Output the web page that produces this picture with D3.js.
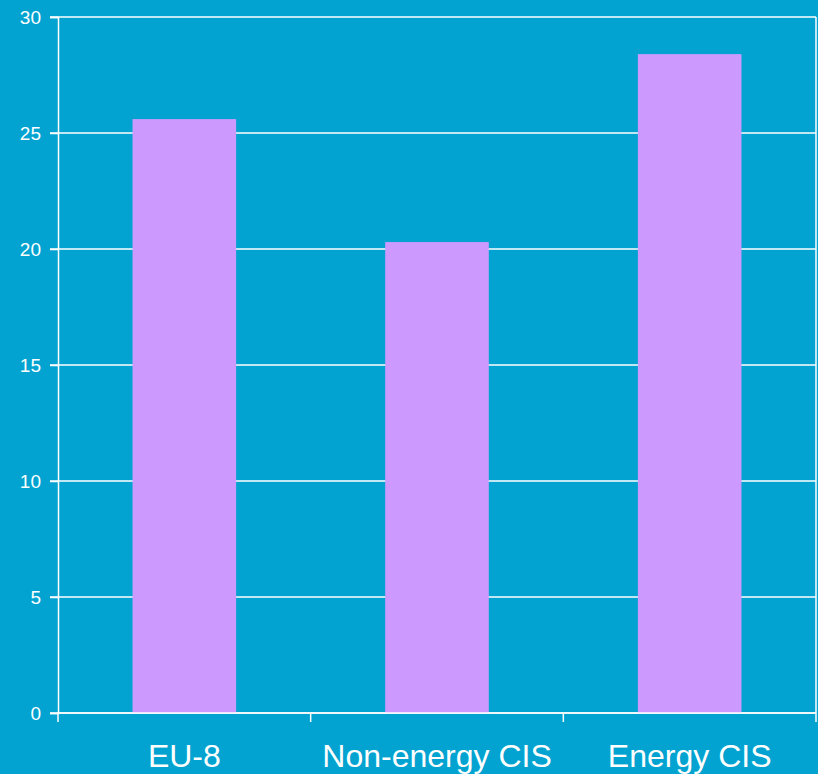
<!DOCTYPE html>
<html>
<head>
<meta charset="utf-8">
<script src="https://cdn.jsdelivr.net/npm/d3@7"></script>
<style>
  body { margin: 0; background: #02a3d1; }
  svg { display: block; font-family: "Liberation Sans", Arial, sans-serif; }
</style>
</head>
<body>
<svg id="chart" width="818" height="774"></svg>
<script>
var categories = ["EU-8", "Non-energy CIS", "Energy CIS"];
var values = [25.6, 20.3, 28.4];
var yTicks = [0, 5, 10, 15, 20, 25, 30];

var svg = d3.select("#chart"),
    margin = {top: 17, right: 2, bottom: 61, left: 58},
    width = +svg.attr("width") - margin.left - margin.right,
    height = +svg.attr("height") - margin.top - margin.bottom,
    g = svg.append("g").attr("transform", "translate(" + margin.left + "," + margin.top + ")");

svg.insert("rect", ":first-child")
    .attr("width", 818).attr("height", 774).attr("fill", "#02a3d1");

var x = d3.scaleBand()
    .domain(categories)
    .range([0, width])
    .paddingInner(0.59)
    .paddingOuter(0.295);

var y = d3.scaleLinear()
    .domain([0, 30])
    .range([height, 0]);

// gridlines
g.append("g")
    .selectAll("line")
    .data(yTicks)
    .enter().append("line")
    .attr("x1", -8)
    .attr("x2", width)
    .attr("y1", function(d) { return y(d); })
    .attr("y2", function(d) { return y(d); })
    .attr("stroke", "#fff")
    .attr("stroke-width", 1.5);

// bars
g.selectAll(".bar")
    .data(values)
    .enter().append("rect")
    .attr("class", "bar")
    .attr("x", function(d, i) { return x(categories[i]); })
    .attr("width", x.bandwidth())
    .attr("y", function(d) { return y(d); })
    .attr("height", function(d) { return height - y(d); })
    .attr("fill", "#cc99ff");

// y axis
var yAxis = g.append("g")
    .call(d3.axisLeft(y).tickValues(yTicks).tickSize(8).tickPadding(9));
yAxis.select(".domain").attr("stroke", "#fff").attr("stroke-width", 1.5);
yAxis.selectAll(".tick line").attr("stroke", "#fff").attr("stroke-width", 1.5);
yAxis.selectAll(".tick text").attr("fill", "#fff").attr("font-size", 19)
    .attr("font-family", "Liberation Sans, Arial, sans-serif");

// x axis: ticks at category boundaries
var boundaries = d3.range(categories.length + 1).map(function(i) { return i * x.step(); });
var xg = g.append("g").attr("transform", "translate(0," + height + ")");
xg.append("line")
    .attr("x1", 0).attr("x2", width)
    .attr("stroke", "#fff").attr("stroke-width", 1.5);
xg.selectAll(".xtick")
    .data(boundaries)
    .enter().append("line")
    .attr("x1", function(d) { return d; })
    .attr("x2", function(d) { return d; })
    .attr("y1", 0).attr("y2", 9)
    .attr("stroke", "#fff").attr("stroke-width", 1.5);
xg.selectAll(".xlabel")
    .data(categories)
    .enter().append("text")
    .attr("x", function(d) { return x(d) + x.bandwidth() / 2; })
    .attr("y", 54)
    .attr("text-anchor", "middle")
    .attr("fill", "#fff")
    .attr("font-size", 32)
    .text(function(d) { return d; });

// right border
g.append("line")
    .attr("x1", width).attr("x2", width)
    .attr("y1", 0).attr("y2", height)
    .attr("stroke", "#fff").attr("stroke-width", 1.5);
</script>
</body>
</html>
